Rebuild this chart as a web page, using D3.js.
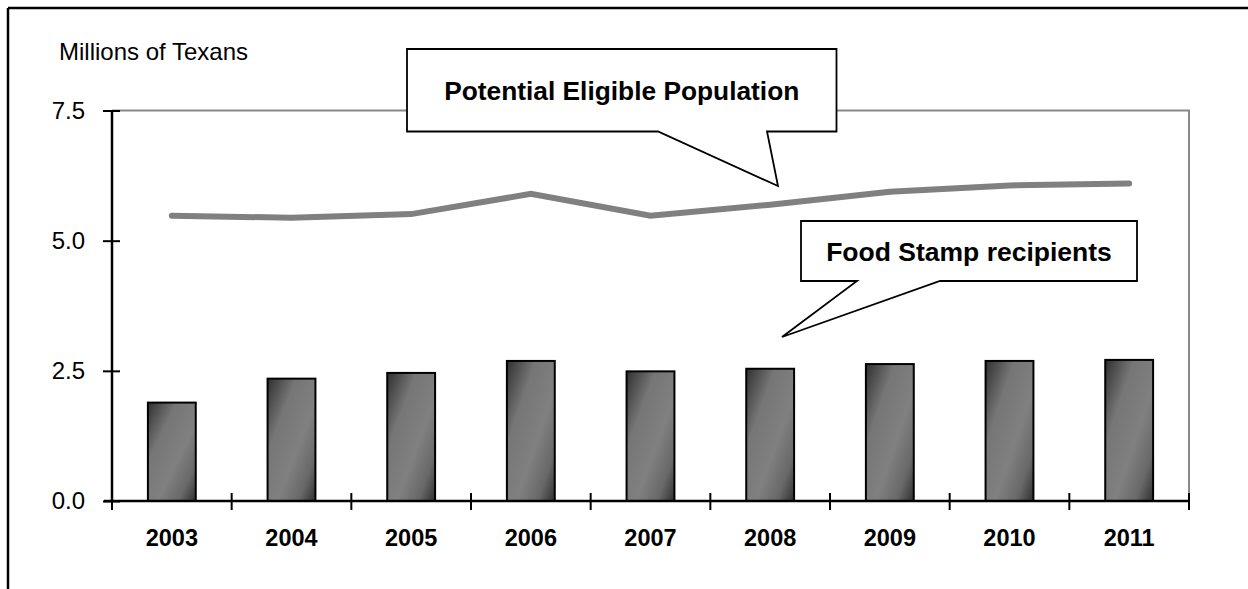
<!DOCTYPE html>
<html>
<head>
<meta charset="utf-8">
<script src="https://cdn.jsdelivr.net/npm/d3@7"></script>
<style>
  html, body { margin: 0; padding: 0; background: #fff; }
  svg { display: block; font-family: "Liberation Sans", Arial, sans-serif; }
</style>
</head>
<body>
<svg id="chart" width="1248" height="589"></svg>
<script>
// Texas food stamp participation vs. potential eligible population (millions)
const years = ["2003", "2004", "2005", "2006", "2007", "2008", "2009", "2010", "2011"];
const recipients = [1.89, 2.35, 2.46, 2.69, 2.49, 2.54, 2.63, 2.69, 2.71];
const eligible = [5.48, 5.44, 5.51, 5.90, 5.48, 5.69, 5.94, 6.06, 6.10];
const yTicks = [0, 2.5, 5.0, 7.5];
const yAxisTitle = "Millions of Texans";
const calloutEligible = "Potential Eligible Population";
const calloutRecipients = "Food Stamp recipients";

const svg = d3.select("#chart");
const plot = { left: 112, right: 1189, top: 110.5, bottom: 501 };

const x = d3.scaleBand()
  .domain(years)
  .range([plot.left, plot.right])
  .paddingInner(0.6)
  .paddingOuter(0.3);

const y = d3.scaleLinear()
  .domain([0, 7.5])
  .range([plot.bottom, plot.top]);

// bar fill: dark corners fading to mid gray
const defs = svg.append("defs");
const grad = defs.append("linearGradient")
  .attr("id", "barFill")
  .attr("x1", 0).attr("y1", 0).attr("x2", 1).attr("y2", 1);
[[0, "#303030"], [0.3, "#767676"], [0.6, "#808080"], [0.82, "#686868"], [1, "#303030"]]
  .forEach(([o, c]) => grad.append("stop").attr("offset", o).attr("stop-color", c));

// outer frame (top and left edges)
svg.append("line").attr("x1", 8).attr("y1", 8).attr("x2", 1248).attr("y2", 8)
  .attr("stroke", "#000").attr("stroke-width", 2.5);
svg.append("line").attr("x1", 8).attr("y1", 8).attr("x2", 8).attr("y2", 589)
  .attr("stroke", "#000").attr("stroke-width", 2.5);

// plot area border (gray top and right)
svg.append("path")
  .attr("d", `M${plot.left},${y(7.5)}H${plot.right}V${plot.bottom}`)
  .attr("fill", "none").attr("stroke", "#888").attr("stroke-width", 2);

// bars
svg.append("g").selectAll("rect")
  .data(years.map((yr, i) => ({ yr, v: recipients[i] })))
  .join("rect")
  .attr("x", d => x(d.yr))
  .attr("y", d => y(d.v))
  .attr("width", x.bandwidth())
  .attr("height", d => y(0) - y(d.v))
  .attr("fill", "url(#barFill)")
  .attr("stroke", "#000")
  .attr("stroke-width", 2);

// eligible population line
const line = d3.line()
  .x((d, i) => x(years[i]) + x.bandwidth() / 2)
  .y(d => y(d));
svg.append("path")
  .datum(eligible)
  .attr("d", line)
  .attr("fill", "none")
  .attr("stroke", "#808080")
  .attr("stroke-width", 6)
  .attr("stroke-linecap", "round");

// y axis
const yAxis = d3.axisLeft(y).tickValues(yTicks).tickFormat(d3.format(".1f")).tickSize(0).tickPadding(0);
const gy = svg.append("g").attr("transform", `translate(${plot.left},0)`).call(yAxis);
gy.select(".domain").remove();
gy.selectAll(".tick text")
  .attr("x", -27)
  .attr("font-size", 24)
  .attr("font-family", "Liberation Sans, Arial, sans-serif")
  .attr("fill", "#000");
gy.selectAll(".tick").append("line")
  .attr("x1", -9).attr("x2", 8)
  .attr("stroke", "#000").attr("stroke-width", 2);
svg.append("line")
  .attr("x1", plot.left).attr("x2", plot.left)
  .attr("y1", y(7.5)).attr("y2", plot.bottom)
  .attr("stroke", "#000").attr("stroke-width", 2.5);

// x axis
const xAxis = d3.axisBottom(x).tickSize(0).tickPadding(0);
const gx = svg.append("g").attr("transform", `translate(0,${plot.bottom})`).call(xAxis);
gx.select(".domain").remove();
gx.selectAll(".tick text")
  .attr("y", 37)
  .attr("dy", "0.35em")
  .attr("font-size", 23.5)
  .attr("font-weight", "bold")
  .attr("font-family", "Liberation Sans, Arial, sans-serif")
  .attr("fill", "#000");
svg.append("line")
  .attr("x1", plot.left - 8).attr("x2", plot.right)
  .attr("y1", plot.bottom).attr("y2", plot.bottom)
  .attr("stroke", "#000").attr("stroke-width", 2.5);
const boundaries = d3.range(years.length + 1).map(i => plot.left + i * x.step());
svg.append("g").selectAll("line")
  .data(boundaries)
  .join("line")
  .attr("x1", d => d).attr("x2", d => d)
  .attr("y1", plot.bottom - 8).attr("y2", plot.bottom + 9)
  .attr("stroke", "#000").attr("stroke-width", 2);

// axis title
svg.append("text")
  .attr("x", 59).attr("y", 60)
  .attr("font-size", 24)
  .attr("fill", "#000")
  .text(yAxisTitle);

// speech-bubble callouts
function callout(box, tail, label, fontSize) {
  const g = svg.append("g");
  const [bx0, by0, bx1, by1] = box;
  const [t0, t1, tx, ty] = tail;
  g.append("path")
    .attr("d", `M${bx0},${by0}H${bx1}V${by1}H${t1}L${tx},${ty}L${t0},${by1}H${bx0}Z`)
    .attr("fill", "#fff").attr("stroke", "#000").attr("stroke-width", 1.8)
    .attr("stroke-linejoin", "miter");
  g.append("text")
    .attr("x", (bx0 + bx1) / 2)
    .attr("y", (by0 + by1) / 2)
    .attr("dy", "0.36em")
    .attr("text-anchor", "middle")
    .attr("font-size", fontSize)
    .attr("font-weight", "bold")
    .attr("fill", "#000")
    .text(label);
}
callout([407, 49, 836.5, 131.5], [658, 767, 778, 186], calloutEligible, 26.3);
callout([801, 221, 1137, 281], [857, 940, 782, 337], calloutRecipients, 26.5);
</script>
</body>
</html>
